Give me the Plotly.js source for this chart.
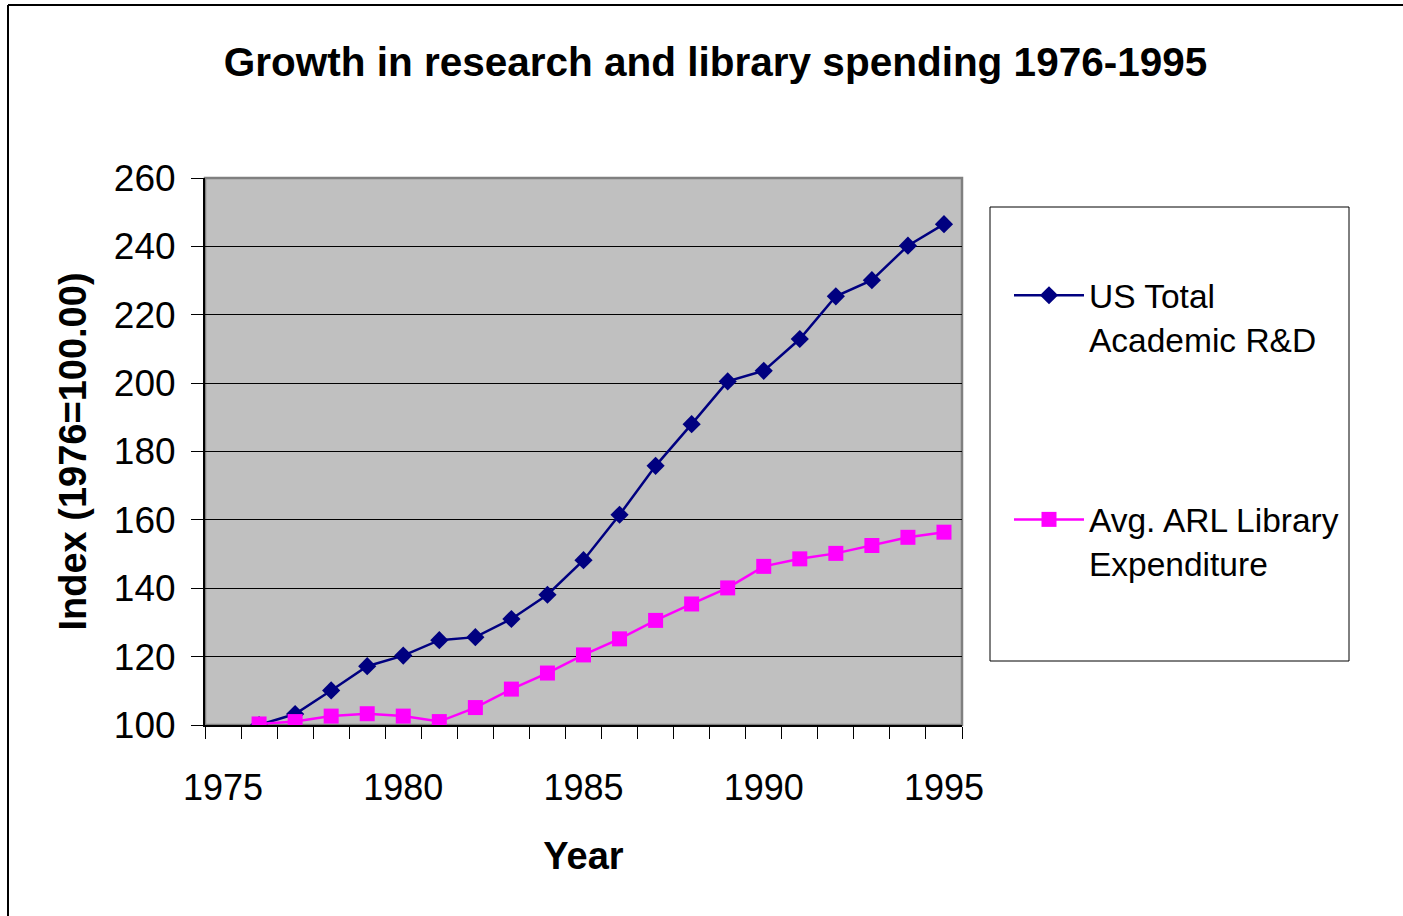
<!DOCTYPE html>
<html>
<head>
<meta charset="utf-8">
<script src="https://cdn.plot.ly/plotly-3.0.1.min.js"></script>
<style>
  html, body { margin: 0; padding: 0; background: #fff; }
  #chart { width: 1403px; height: 916px; }
</style>
</head>
<body>
<div id="chart"></div>
<script>
// Index values, 1976 = 100
const years = [1976, 1977, 1978, 1979, 1980, 1981, 1982, 1983, 1984, 1985,
               1986, 1987, 1988, 1989, 1990, 1991, 1992, 1993, 1994, 1995];
const academicRD = [100, 103.2, 110.1, 117.2, 120.3, 124.8, 125.7, 131.0, 138.1, 148.2,
                    161.5, 175.8, 188.0, 200.5, 203.6, 212.9, 225.4, 230.1, 240.2, 246.5];
const arlLibrary = [100.3, 101.0, 102.6, 103.3, 102.6, 101.0, 105.1, 110.5, 115.2, 120.5,
                    125.2, 130.6, 135.4, 140.1, 146.4, 148.6, 150.2, 152.5, 154.9, 156.4];
const seriesNames = ['US Total<br>Academic R&D', 'Avg. ARL Library<br>Expenditure'];
const xTickYears = [1975, 1980, 1985, 1990, 1995];
const chartTitle = 'Growth in research and library spending 1976-1995';
const xTitle = 'Year';
const yTitle = 'Index (1976=100.00)';

const FONT = 'Arial, "Liberation Sans", sans-serif';

const traces = [
  {
    x: years, y: academicRD, name: seriesNames[0], legendgroup: 'a',
    type: 'scatter', mode: 'lines+markers',
    line: { color: '#000080', width: 2.5 },
    marker: { symbol: 'diamond', size: 14, color: '#000080' }
  },
  {
    x: years, y: arlLibrary, name: seriesNames[1], legendgroup: 'b',
    type: 'scatter', mode: 'lines+markers',
    line: { color: '#ff00ff', width: 2.5 },
    marker: { symbol: 'square', size: 15, color: '#ff00ff' }
  }
];

const layout = {
  width: 1403, height: 916, autosize: false,
  margin: { l: 205, r: 441, t: 178, b: 191, pad: 0 },
  paper_bgcolor: '#ffffff',
  plot_bgcolor: '#c0c0c0',
  font: { family: FONT, color: '#000' },
  title: {
    text: '<b>' + chartTitle + '</b>',
    font: { family: FONT, size: 40.5, color: '#000' },
    x: 715.5 / 1403, xref: 'container', xanchor: 'center',
    y: 1 - 62 / 916, yref: 'container', yanchor: 'middle'
  },
  xaxis: {
    range: [1974.5, 1995.5],
    tickmode: 'array', tickvals: xTickYears, ticktext: xTickYears.map(String),
    ticks: '', ticklen: 0,
    ticklabelstandoff: 30,
    minor: { tick0: 1974.5, dtick: 1, ticks: 'outside', ticklen: 12, tickcolor: '#000', tickwidth: 1, showgrid: false },
    showgrid: false, zeroline: false,
    showline: true, linecolor: '#000', linewidth: 1.5,
    tickfont: { family: FONT, size: 36, color: '#000' },
    title: { text: '<b>' + xTitle + '</b>', font: { family: FONT, size: 38, color: '#000' }, standoff: 35 },
    fixedrange: true
  },
  yaxis: {
    range: [100, 260], dtick: 20, tick0: 100,
    ticks: 'outside', ticklen: 12, tickcolor: '#000', tickwidth: 1,
    ticklabelstandoff: 8,
    showgrid: true, gridcolor: '#000', gridwidth: 1,
    zeroline: false,
    showline: true, linecolor: '#000', linewidth: 2,
    tickfont: { family: FONT, size: 37, color: '#000' },
    title: { text: '<b>' + yTitle + '</b>', font: { family: FONT, size: 38, color: '#000' }, standoff: 16 },
    fixedrange: true
  },
  showlegend: true,
  legend: {
    x: (1009 - 205) / 757, xanchor: 'left', xref: 'paper',
    y: (725 - 267) / 547, yanchor: 'top', yref: 'paper',
    bgcolor: 'rgba(0,0,0,0)', borderwidth: 0,
    font: { family: FONT, size: 33.5, color: '#000' },
    traceorder: 'grouped', tracegroupgap: 134,
    valign: 'top', itemwidth: 70
  },
  shapes: [
    // outer chart frame: top and left edges
    { type: 'line', xref: 'paper', yref: 'paper',
      x0: (8 - 205) / 757, x1: (1403 - 205) / 757,
      y0: (725 - 5) / 547, y1: (725 - 5) / 547,
      line: { color: '#000', width: 2 } },
    { type: 'line', xref: 'paper', yref: 'paper',
      x0: (8 - 205) / 757, x1: (8 - 205) / 757,
      y0: (725 - 5) / 547, y1: (725 - 920) / 547,
      line: { color: '#000', width: 2 } },
    // plot area frame (top/right in grey)
    { type: 'rect', xref: 'x domain', yref: 'y domain', x0: 0, x1: 1, y0: 0, y1: 1,
      line: { color: '#808080', width: 2.5 }, layer: 'below' },
    // legend frame
    { type: 'rect', xref: 'paper', yref: 'paper',
      x0: (990 - 205) / 757, x1: (1349 - 205) / 757,
      y0: (725 - 207) / 547, y1: (725 - 661) / 547,
      line: { color: '#000', width: 1 }, fillcolor: 'rgba(0,0,0,0)' }
  ]
};

Plotly.newPlot('chart', traces, layout, { staticPlot: true, displayModeBar: false });
</script>
</body>
</html>
